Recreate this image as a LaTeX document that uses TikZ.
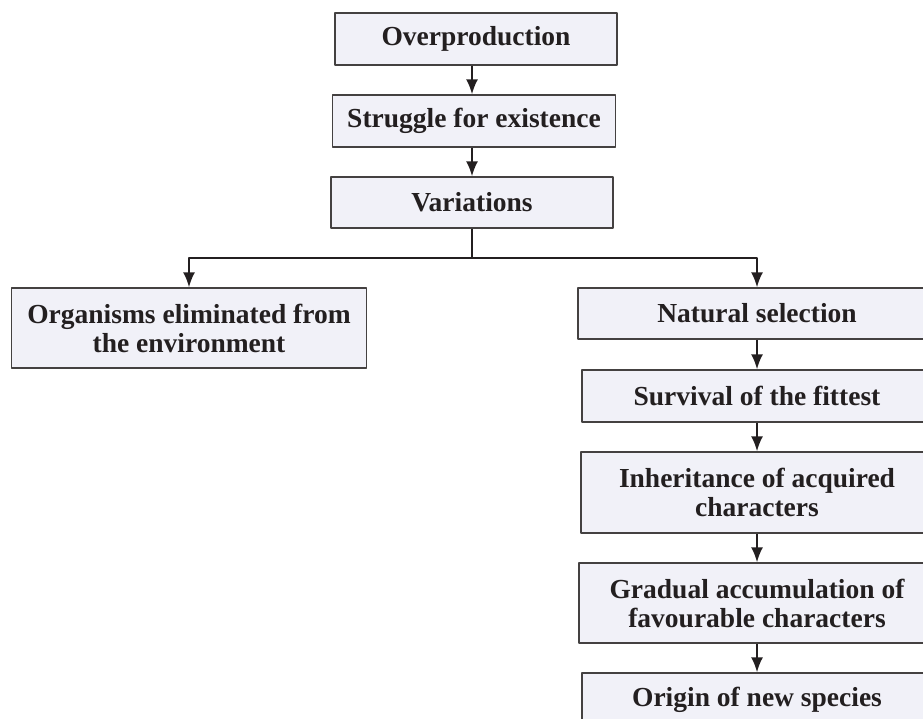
\documentclass[tikz,border=0pt]{standalone}
\usepackage{fontspec}
\setmainfont{Liberation Serif}
\usepackage{xcolor}
\usetikzlibrary{arrows.meta}
\definecolor{boxfill}{HTML}{F1F1F8}
\definecolor{ink}{HTML}{231F20}
\tikzset{
  box/.style={draw=ink!85, fill=boxfill, line width=1.3pt, text=ink, align=center,
    inner sep=0pt, font=\bfseries\fontsize{27.5}{29}\selectfont},
  flow/.style={draw=ink, line width=2pt, -{Latex[length=15pt,width=12pt]}}
}
\begin{document}
\begin{tikzpicture}[x=1pt, y=-1pt, line join = round]

  \clip (0,0) rectangle (923,718);

  % main stem
  \node[box, minimum width=282pt, minimum height=52pt] (over)  at (476,39)    {Overproduction};
  \node[box, minimum width=283pt, minimum height=52pt] (strug) at (474,121)   {Struggle for existence};
  \node[box, minimum width=282pt, minimum height=51pt] (vari)  at (472,202.5) {Variations};

  % branches
  \coordinate (split) at (472,258);
  \node[box, minimum width=355pt, minimum height=80pt] (elim) at (189,328) {Organisms eliminated from\\the environment};

  \node[box, minimum width=358pt, minimum height=51pt] (nat)   at (757,313.5) {Natural selection};
  \node[box, minimum width=350pt, minimum height=52pt] (surv)  at (757,396)   {Survival of the fittest};
  \node[box, minimum width=352pt, minimum height=81pt] (inher) at (757,492.5) {Inheritance of acquired\\characters};
  \node[box, minimum width=356pt, minimum height=80pt] (grad)  at (757,603)   {Gradual accumulation of\\favourable characters};
  \node[box, minimum width=350pt, minimum height=54pt] (orig)  at (757,700)   {Origin of new species};

  \draw[flow] (over.south -| vari) -- (strug.north -| vari);
  \draw[flow] (strug.south -| vari) -- (vari.north);
  \draw[draw=ink, line width=2pt] (vari.south) -- (split);
  \draw[flow] (split) -| (elim.north);
  \draw[flow] (split) -| (nat.north);

  \foreach \a/\b in {nat/surv, surv/inher, inher/grad, grad/orig}
    \draw[flow] (\a.south) -- (\b.north);

\end{tikzpicture}
\end{document}
